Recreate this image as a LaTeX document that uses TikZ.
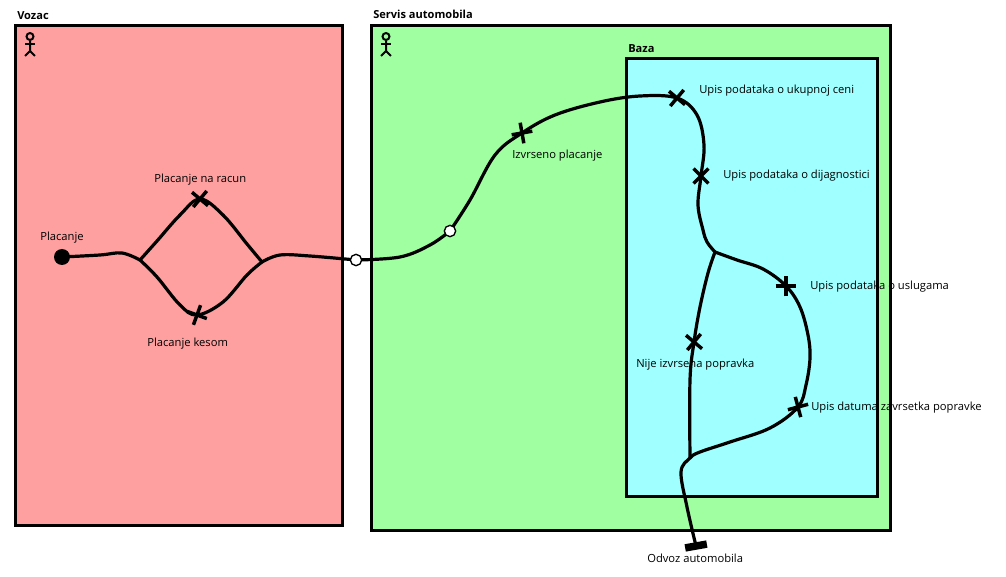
\documentclass[tikz,border=0pt]{standalone}
\usepackage{fontspec}
\setmainfont{Open Sans}
\usetikzlibrary{fit,shapes.misc}
\definecolor{pinkfill}{HTML}{FFA0A0}
\definecolor{greenfill}{HTML}{A0FFA0}
\definecolor{cyanfill}{HTML}{A0FFFF}
\pgfdeclarelayer{fills}
\pgfdeclarelayer{labels}
\pgfdeclarelayer{conn}
\pgfsetlayers{fills,labels,conn,main}
\tikzset{
  panel/.style={fit={#1},inner sep=0pt},
  panelline/.style={draw=black,line width=2.25pt},
  flow/.style={draw=black,line width=2.4pt,line join=round,line cap=round},
  xmark/.style={cross out,draw=black,line width=2.6pt,inner sep=0pt,minimum size=8.5pt},
  hollow/.style={circle,draw=black,fill=white,line width=1pt,inner sep=0pt,minimum size=8.5pt},
  solidstart/.style={circle,fill=black,inner sep=0pt,minimum size=12pt},
  lab/.style={anchor=base west,inner sep=0pt,font=\fontsize{8.4pt}{10pt}\selectfont,text=black},
  title/.style={lab,font=\fontsize{8.3pt}{10pt}\selectfont\bfseries},
  actor/.style={draw=black,line width=1.5pt},
  endbar/.style={rectangle,fill=black,inner sep=0pt,minimum width=16.5pt,minimum height=5.6pt,rotate=10}
}
\begin{document}
\begin{tikzpicture}[x=.75pt,y=-.75pt]
\useasboundingbox (0,0) rectangle (1006,577);
% nodes on top
\node[solidstart] (start) at (62,257) {};
\node[xmark,rotate=5] (m1) at (200,199) {};
\node[xmark,rotate=25] (m2) at (197,315) {};
\node[xmark,rotate=55] (m3) at (522,133) {};
\node[xmark,rotate=5] (m4) at (677,98) {};
\node[xmark,rotate=0] (m5) at (701,176) {};
\node[xmark,rotate=45] (m6) at (786,286) {};
\node[xmark,rotate=60] (m7) at (798,407) {};
\node[xmark,rotate=5] (m8) at (694,342) {};
\node[hollow] (port) at (356,260) {};
\node[hollow] (p2) at (450,231) {};
\node[endbar] (stop) at (696,546) {};
\coordinate (j1) at (140,260);
\coordinate (j2) at (262,262);
\coordinate (j3) at (715,252);
\coordinate (j4) at (690,458);
\begin{pgfonlayer}{fills}
\node[panel={(16,26)(342,525)},fill=pinkfill] (vozac) {};
\node[panel={(372,26)(890,530)},fill=greenfill] (servis) {};
\node[panel={(627,59)(877,496)},fill=cyanfill] (baza) {};
\end{pgfonlayer}
\begin{pgfonlayer}{labels}
\node[title] (t1) at (17,19.5) {Vozac};
\node[title] (t2) at (373,18.5) {Servis automobila};
\node[title] (t3) at (628,52.5) {Baza};
\node[lab] (l1) at (40,241) {Placanje};
\node[lab] (l2) at (154,183) {Placanje na racun};
\node[lab] (l3) at (147,346) {Placanje kesom};
\node[lab] (l4) at (512,159) {Izvrseno placanje};
\node[lab] (l5) at (699,94) {Upis podataka o ukupnoj ceni};
\node[lab] (l6) at (723,179) {Upis podataka o dijagnostici};
\node[lab] (l7) at (810,289) {Upis podataka o uslugama};
\node[lab] (l8) at (636,367) {Nije izvrsena popravka};
\node[lab] (l9) at (811,410) {Upis datuma zavrsetka popravke};
\node[lab] (l10) at (647,562) {Odvoz automobila};
\end{pgfonlayer}
\begin{pgfonlayer}{conn}
\draw[panelline] (vozac.north west) rectangle (vozac.south east);
\draw[panelline] (servis.north west) rectangle (servis.south east);
\draw[panelline] (baza.north west) rectangle (baza.south east);
\draw[flow] plot[smooth,tension=.6] coordinates {(start.center) (100,255) (122,253) (j1)};
\draw[flow] plot[smooth,tension=.6] coordinates {(j1) (157,241) (180,215) (m1.center) (223,215) (247,244) (j2)};
\draw[flow] plot[smooth,tension=.6] coordinates {(j1) (157,277) (180,305) (m2.center) (223,302) (247,275) (j2)};
\draw[flow] plot[smooth,tension=.6] coordinates {(j2) (280,255) (310,256) (port.center)};
\draw[flow] plot[smooth,tension=.6] coordinates {(port.center) (400,257) (430,245) (p2.center)};
\draw[flow] plot[smooth,tension=.6] coordinates {(p2.center) (470,200) (495,155) (m3.center) (555,115) (600,102) (640,96) (m4.center) (697,115) (704,145) (m5.center) (698,205) (703,230) (707,242) (j3)};
\draw[flow] plot[smooth,tension=.6] coordinates {(j3) (737,260) (763,269) (m6.center) (800,307) (808,335) (810,358) (806,385) (m7.center) (770,428) (730,442) (700,452) (j4) (681,472) (687,507) (stop.center)};
\draw[flow] plot[smooth,tension=.6] coordinates {(j3) (708,273) (700,307) (m8.center) (690,380) (j4)};
\end{pgfonlayer}
% actors
\foreach \ax/\an in {30/a1,386/a2}{
  \node[circle,draw=black,line width=1.5pt,minimum size=5.2pt,inner sep=0pt] (\an) at (\ax,36.5) {};
  \draw[actor] (\an.south) -- ++(0,10) -- ++(-5,5);
  \draw[actor] (\an.south) ++(0,10) -- ++(5,5);
  \draw[actor] (\ax-5,44) -- (\ax+5,44);
}
\end{tikzpicture}
\end{document}
